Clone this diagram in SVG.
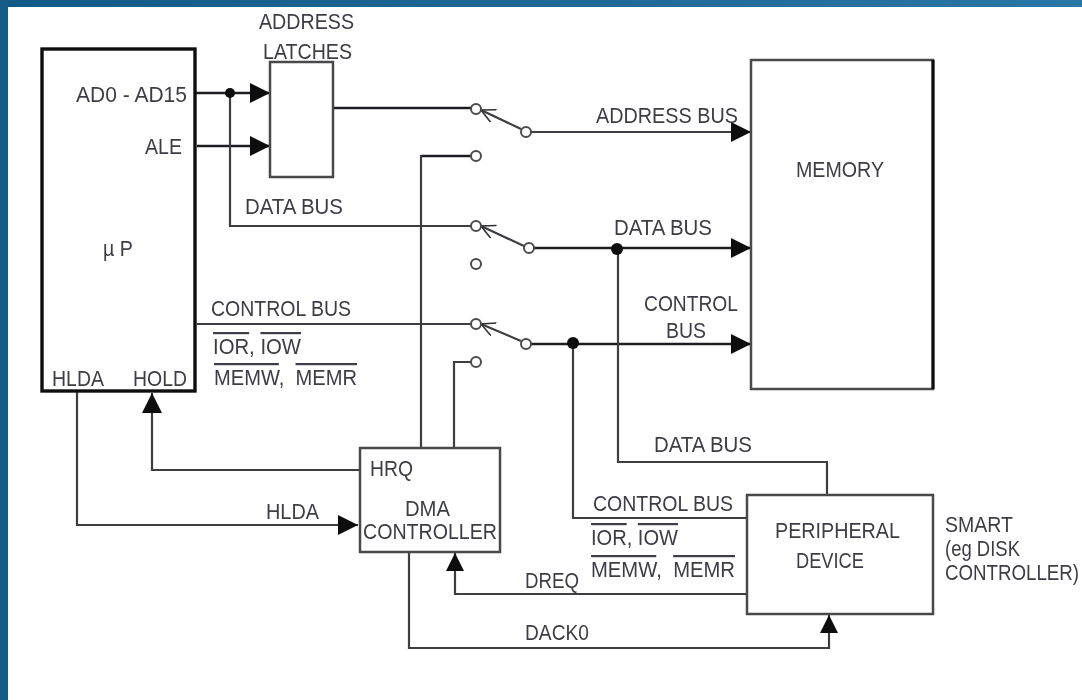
<svg xmlns="http://www.w3.org/2000/svg" width="1082" height="700" viewBox="0 0 1082 700">
<style>
text{font-family:"Liberation Sans",Arial,sans-serif;font-size:22px;fill:#3c3c46;white-space:pre;}
.o{text-decoration:overline;}
.box{fill:#fff;stroke:#4a4a48;stroke-width:2.5;}
.w{fill:none;stroke:#3c3c42;stroke-width:2.2;}
.t{stroke:#1c1c20;stroke-width:2.6;}
.sw{fill:#fff;stroke:#4c4c4c;stroke-width:2;}
.dot{fill:#0c0c10;stroke:none;}
</style>
<defs>
<linearGradient id="bg" x1="0" y1="0" x2="1" y2="0"><stop offset="0" stop-color="#125a86"/><stop offset="1" stop-color="#2a76a6"/></linearGradient>
<marker id="a" markerUnits="userSpaceOnUse" markerWidth="22" markerHeight="22" refX="20" refY="10" orient="auto"><path d="M0 0L20 10L0 20Z" fill="#0c0c10"/></marker>
<marker id="s" markerUnits="userSpaceOnUse" markerWidth="20" markerHeight="20" refX="18" refY="9" orient="auto"><path d="M0 0L18 9L0 18Z" fill="#0c0c10"/></marker>
<marker id="o" markerUnits="userSpaceOnUse" markerWidth="16" markerHeight="16" refX="14" refY="7" orient="auto"><path d="M0 0L14 7L0 14" fill="none" stroke="#333" stroke-width="1.6"/></marker>
<filter id="b" x="-2%" y="-2%" width="104%" height="104%"><feGaussianBlur stdDeviation="0.55"/></filter>
</defs>
<rect width="1082" height="700" fill="#fff"/>
<rect width="1082" height="7" fill="url(#bg)"/>
<rect width="8" height="700" fill="#135c88"/>
<g filter="url(#b)">
<g id="connectors">
<path class="w t" d="M195 93H270" marker-end="url(#a)"/>
<path class="w t" d="M197 146H270" marker-end="url(#a)"/>
<path class="w" d="M230 93V226H471"/>
<path class="w t" d="M333 108H471"/>
<path class="w t" d="M471 156H421"/>
<path class="w" d="M421 155V448"/>
<path class="w" d="M197 324H471"/>
<path class="w" d="M471 362H454V448"/>
<path class="w" d="M521 129L481 110" marker-end="url(#o)"/>
<path class="w" d="M524 246L481 226" marker-end="url(#o)"/>
<path class="w" d="M521 341L481 324" marker-end="url(#o)"/>
<path class="w" d="M531 132H751" marker-end="url(#a)"/>
<path class="w t" d="M534 248H751" marker-end="url(#a)"/>
<path class="w t" d="M531 344H751" marker-end="url(#a)"/>
<path class="w" d="M618 248V462H827V495"/>
<path class="w" d="M573 343V518H748"/>
<path class="w" d="M77 392V525H358" marker-end="url(#a)"/>
<path class="w" d="M360 470H152V393" marker-end="url(#a)"/>
<path class="w" d="M747 594H455V553" marker-end="url(#s)"/>
<path class="w" d="M409 552V648H829V615" marker-end="url(#s)"/>
<circle class="dot" cx="230" cy="93" r="5"/>
<circle class="dot" cx="617" cy="249" r="6"/>
<circle class="dot" cx="573" cy="343" r="6"/>
<circle class="sw" cx="476" cy="109" r="5"/>
<circle class="sw" cx="476" cy="156" r="5"/>
<circle class="sw" cx="476" cy="226" r="5"/>
<circle class="sw" cx="476" cy="264" r="5"/>
<circle class="sw" cx="476" cy="324" r="5"/>
<circle class="sw" cx="476" cy="362" r="5"/>
<circle class="sw" cx="526" cy="132" r="5"/>
<circle class="sw" cx="529" cy="248" r="5"/>
<circle class="sw" cx="526" cy="344" r="5"/>
</g>
<g id="up">
<rect x="42" y="49" width="153" height="342" fill="#fff" stroke="#111" stroke-width="3.4"/>
<text x="76" y="102" textLength="111" lengthAdjust="spacingAndGlyphs">AD0 - AD15</text>
<text x="145" y="154" textLength="37" lengthAdjust="spacingAndGlyphs">ALE</text>
<text x="103" y="256" textLength="30" lengthAdjust="spacingAndGlyphs">µ P</text>
<text x="52" y="386" textLength="52" lengthAdjust="spacingAndGlyphs">HLDA</text>
<text x="133" y="386" textLength="54" lengthAdjust="spacingAndGlyphs">HOLD</text>
</g>
<g id="address-latches">
<rect class="box" x="270" y="62" width="63" height="115"/>
<text x="259" y="29" textLength="95" lengthAdjust="spacingAndGlyphs">ADDRESS</text>
<text x="263" y="59" textLength="89" lengthAdjust="spacingAndGlyphs">LATCHES</text>
</g>
<g id="memory">
<rect class="box" x="751" y="60" width="182" height="329"/>
<path d="M933 60V389" stroke="#111" stroke-width="3.2"/>
<text x="796" y="177" textLength="88" lengthAdjust="spacingAndGlyphs">MEMORY</text>
</g>
<g id="dma-controller">
<rect class="box" x="360" y="448" width="140" height="104"/>
<text x="370" y="476" textLength="43" lengthAdjust="spacingAndGlyphs">HRQ</text>
<text x="405" y="516" textLength="45" lengthAdjust="spacingAndGlyphs">DMA</text>
<text x="363" y="539" textLength="134" lengthAdjust="spacingAndGlyphs">CONTROLLER</text>
</g>
<g id="peripheral-device">
<rect class="box" x="747" y="495" width="186" height="119"/>
<text x="775" y="538" textLength="125" lengthAdjust="spacingAndGlyphs">PERIPHERAL</text>
<text x="796" y="568" textLength="68" lengthAdjust="spacingAndGlyphs">DEVICE</text>
</g>
<g id="labels">
<text x="245" y="214" textLength="98" lengthAdjust="spacingAndGlyphs">DATA BUS</text>
<text x="211" y="316" textLength="140" lengthAdjust="spacingAndGlyphs">CONTROL BUS</text>
<text x="213" y="354" textLength="88" lengthAdjust="spacingAndGlyphs"><tspan class="o">IOR</tspan>, <tspan class="o">IOW</tspan></text>
<text x="214" y="385" textLength="143" lengthAdjust="spacingAndGlyphs"><tspan class="o">MEMW</tspan>,  <tspan class="o">MEMR</tspan></text>
<text x="596" y="123" textLength="142" lengthAdjust="spacingAndGlyphs">ADDRESS BUS</text>
<text x="614" y="235" textLength="98" lengthAdjust="spacingAndGlyphs">DATA BUS</text>
<text x="644" y="311" textLength="94" lengthAdjust="spacingAndGlyphs">CONTROL</text>
<text x="666" y="338" textLength="40" lengthAdjust="spacingAndGlyphs">BUS</text>
<text x="266" y="519" textLength="53" lengthAdjust="spacingAndGlyphs">HLDA</text>
<text x="654" y="452" textLength="98" lengthAdjust="spacingAndGlyphs">DATA BUS</text>
<text x="593" y="511" textLength="140" lengthAdjust="spacingAndGlyphs">CONTROL BUS</text>
<text x="591" y="545" textLength="87" lengthAdjust="spacingAndGlyphs"><tspan class="o">IOR</tspan>, <tspan class="o">IOW</tspan></text>
<text x="591" y="577" textLength="144" lengthAdjust="spacingAndGlyphs"><tspan class="o">MEMW</tspan>,  <tspan class="o">MEMR</tspan></text>
<text x="525" y="588" textLength="54" lengthAdjust="spacingAndGlyphs">DREQ</text>
<text x="525" y="640" textLength="64" lengthAdjust="spacingAndGlyphs">DACK0</text>
<text x="945" y="532" textLength="68" lengthAdjust="spacingAndGlyphs">SMART</text>
<text x="945" y="556" textLength="75" lengthAdjust="spacingAndGlyphs">(eg DISK</text>
<text x="945" y="580" textLength="134" lengthAdjust="spacingAndGlyphs">CONTROLLER)</text>
</g>
</g>
</svg>
